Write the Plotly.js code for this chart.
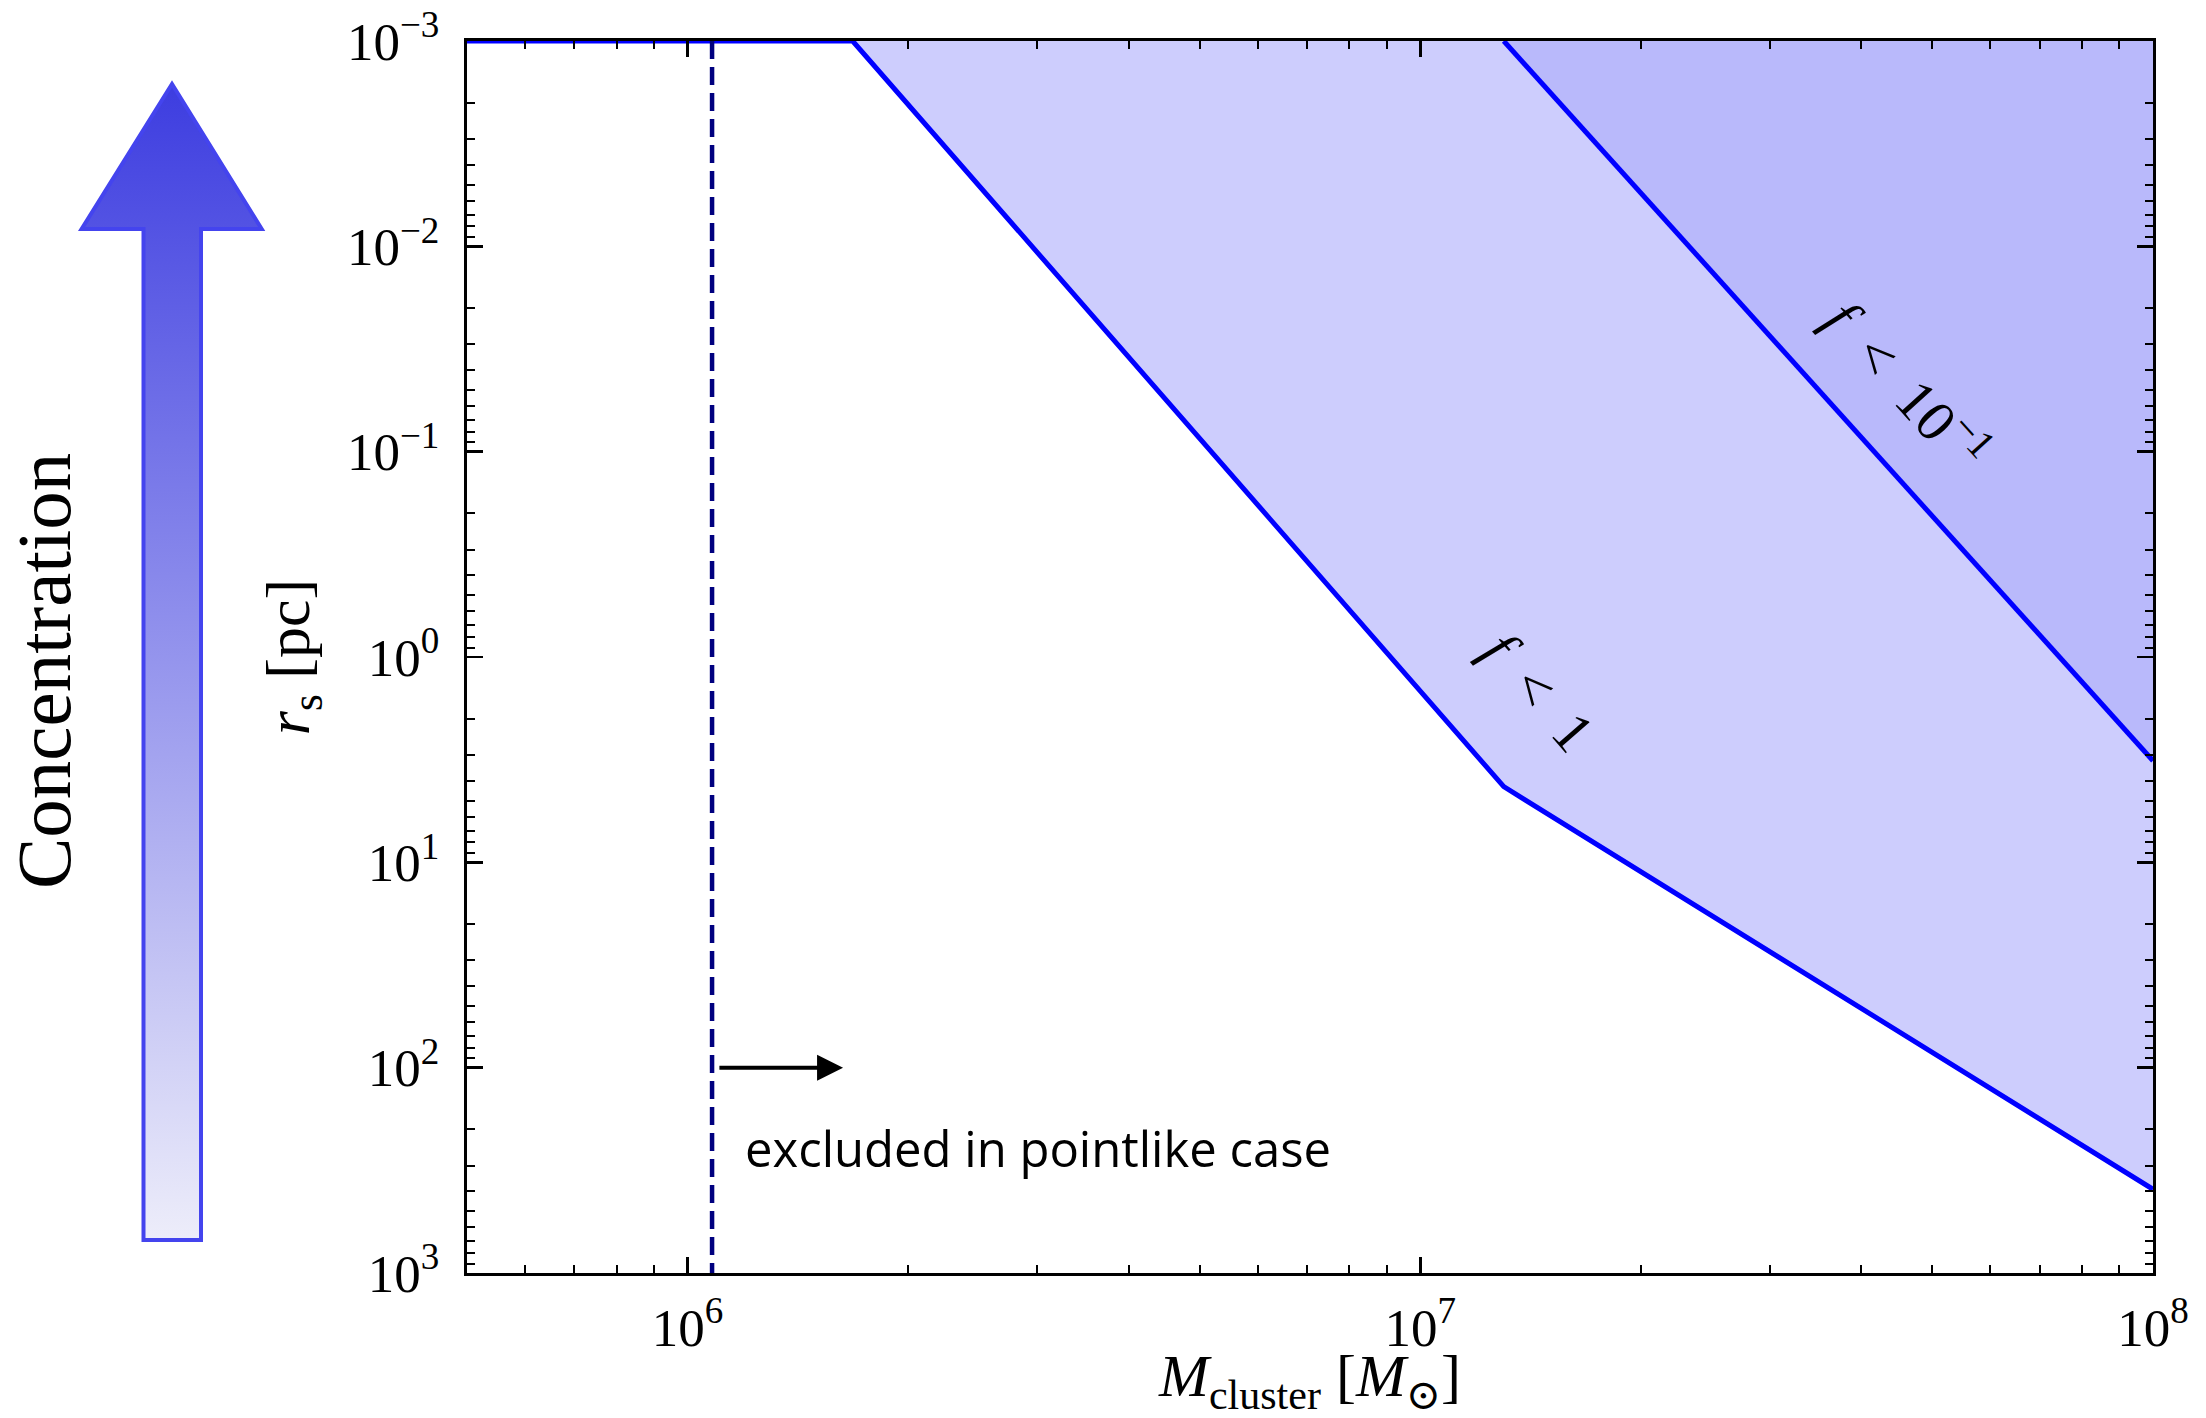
<!DOCTYPE html>
<html>
<head>
<meta charset="utf-8">
<script src="https://cdn.plot.ly/plotly-3.0.1.min.js"></script>
<style>html,body{margin:0;padding:0;background:#fff;}#chart{width:2206px;height:1418px;}</style>
</head>
<body>
<div id="chart"></div>
<script>
// ---- data ----
const xMin = 5e5, xMax = 1e8;          // M_cluster axis limits [M_sun]
const yTop = 1e-3, yBottom = 1e3;      // r_s axis limits [pc] (reversed)
const f1Mass   = [5e5, 1.68e6, 1.3e7, 1e8];
const f1Radius = [1e-3, 1e-3, 4.28, 391];
const f01Mass   = [1.3e7, 1e8];
const f01Radius = [1e-3, 3.2];
const pointlikeMass = 1.08e6;
const excludedArrowMass = [1.1e6, 1.63e6];
const excludedArrowRadius = 100;
const xTickVals = [1e6, 1e7, 1e8];
const xTickText = ['10<sup>6</sup>', '10<sup>7</sup>', '10<sup>8</sup>'];
const yTickVals = [1e-3, 1e-2, 1e-1, 1e0, 1e1, 1e2, 1e3];
const yTickText = ['10<sup>−3</sup>', '10<sup>−2</sup>', '10<sup>−1</sup>', '10<sup>0</sup>', '10<sup>1</sup>', '10<sup>2</sup>', '10<sup>3</sup>'];

const L = Math.log10;
function minorTicks(lo, hi) {
  const v = [];
  for (let e = Math.floor(L(lo)); e < Math.ceil(L(hi)); e++)
    for (let k = 2; k <= 9; k++) { const t = k * Math.pow(10, e); if (t > lo && t < hi) v.push(t); }
  return v;
}

const serif = 'Liberation Serif, DejaVu Serif, serif';

const traces = [
  { x: f1Mass.concat([xMax]), y: f1Radius.concat([yTop]), mode: 'none', fill: 'toself',
    fillcolor: 'rgb(205,205,253)', hoverinfo: 'skip', showlegend: false },
  { x: f01Mass.concat([xMax]), y: f01Radius.concat([yTop]), mode: 'none', fill: 'toself',
    fillcolor: 'rgb(185,185,251)', hoverinfo: 'skip', showlegend: false },
  { x: f1Mass, y: f1Radius, mode: 'lines', line: { color: '#0000ff', width: 5 }, showlegend: false, name: 'f < 1' },
  { x: f01Mass, y: f01Radius, mode: 'lines', line: { color: '#0000ff', width: 5 }, showlegend: false, name: 'f < 0.1' },
  { x: [pointlikeMass, pointlikeMass], y: [yTop, yBottom], mode: 'lines',
    line: { color: '#00007f', width: 4.5, dash: '18px,8px' }, showlegend: false, name: 'pointlike' }
];

// gradient "Concentration" arrow as an SVG image in the left margin
const arrowSvg = '<svg xmlns="http://www.w3.org/2000/svg" width="190" height="1165" viewBox="0 0 190 1165">' +
  '<defs><linearGradient id="g" x1="0" y1="0" x2="0" y2="1">' +
  '<stop offset="0" stop-color="#3d3de0"/><stop offset="1" stop-color="#ededfa"/></linearGradient></defs>' +
  '<polygon points="96,4 185.7,149 125,149 125,1160 67.5,1160 67.5,149 5.6,149" fill="url(#g)" stroke="#4444ee" stroke-width="4" stroke-linejoin="miter"/>' +
  '</svg>';
const arrowSrc = 'data:image/svg+xml;charset=utf-8,' + encodeURIComponent(arrowSvg);

const plotL = 467, plotR = 2153, plotT = 41, plotB = 1273;
const pw = plotR - plotL, ph = plotB - plotT;

const axisCommon = {
  type: 'log', showline: true, linecolor: '#000', linewidth: 3, mirror: 'allticks',
  ticks: 'inside', ticklen: 16, tickwidth: 2.5, tickcolor: '#000',
  showgrid: false, zeroline: false, tickmode: 'array',
  tickfont: { family: serif, size: 53, color: '#000' }
};

const layout = {
  width: 2206, height: 1418,
  margin: { l: plotL, r: 2206 - plotR, t: plotT, b: 1418 - plotB },
  paper_bgcolor: '#fff', plot_bgcolor: '#fff',
  showlegend: false,
  xaxis: Object.assign({}, axisCommon, {
    range: [L(xMin), L(xMax)], tickvals: xTickVals, ticktext: xTickText,
    ticklabelstandoff: 6,
    minor: { tickmode: 'array', tickvals: minorTicks(xMin, xMax), ticks: 'inside', ticklen: 8, tickwidth: 2, tickcolor: '#000' },
    title: { text: '<i>M</i><sub>cluster</sub> [<i>M</i><sub>⊙</sub>]', font: { family: serif, size: 60, color: '#000' } }
  }),
  yaxis: Object.assign({}, axisCommon, {
    range: [L(yBottom), L(yTop)], tickvals: yTickVals, ticktext: yTickText,
    ticklabelstandoff: 14,
    minor: { tickmode: 'array', tickvals: minorTicks(yTop, yBottom), ticks: 'inside', ticklen: 8, tickwidth: 2, tickcolor: '#000' },
    title: { text: '<i>r</i><sub>s</sub> [pc]', font: { family: serif, size: 62, color: '#000' }, standoff: 18 }
  }),
  images: [{
    source: arrowSrc, xref: 'paper', yref: 'paper',
    x: (76 - plotL) / pw, y: (plotB - 80) / ph,
    sizex: 190 / pw, sizey: 1165 / ph, sizing: 'stretch',
    xanchor: 'left', yanchor: 'top', layer: 'above'
  }],
  annotations: [
    { xref: 'paper', yref: 'paper', x: (44 - plotL) / pw, y: (plotB - 671) / ph,
      text: 'Concentration', textangle: -90, showarrow: false,
      font: { family: serif, size: 77, color: '#000' }, xanchor: 'center', yanchor: 'middle' },
    { xref: 'x', yref: 'y', x: 7.16, y: 0.17, text: '<i>f</i>&nbsp; &lt;&nbsp; 1', textangle: 49, showarrow: false,
      font: { family: serif, size: 58, color: '#000' }, xanchor: 'center', yanchor: 'middle' },
    { xref: 'x', yref: 'y', x: 7.665, y: -1.33, text: '<i>f</i>&nbsp; &lt;&nbsp; 10<sup>−1</sup>', textangle: 48, showarrow: false,
      font: { family: serif, size: 58, color: '#000' }, xanchor: 'center', yanchor: 'middle' },
    { xref: 'x', yref: 'y', axref: 'x', ayref: 'y',
      x: L(excludedArrowMass[1]), y: L(excludedArrowRadius),
      ax: L(excludedArrowMass[0]), ay: L(excludedArrowRadius),
      text: '', showarrow: true, arrowhead: 2, arrowsize: 1.3, arrowwidth: 4, arrowcolor: '#000' },
    { xref: 'x', yref: 'y', x: 6.076, y: 2.39, text: 'excluded in pointlike case', showarrow: false,
      xanchor: 'left', yanchor: 'middle', font: { family: 'Open Sans, Lato, sans-serif', size: 49, color: '#000' } }
  ]
};

Plotly.newPlot('chart', traces, layout, { staticPlot: true, displayModeBar: false });
</script>
</body>
</html>
